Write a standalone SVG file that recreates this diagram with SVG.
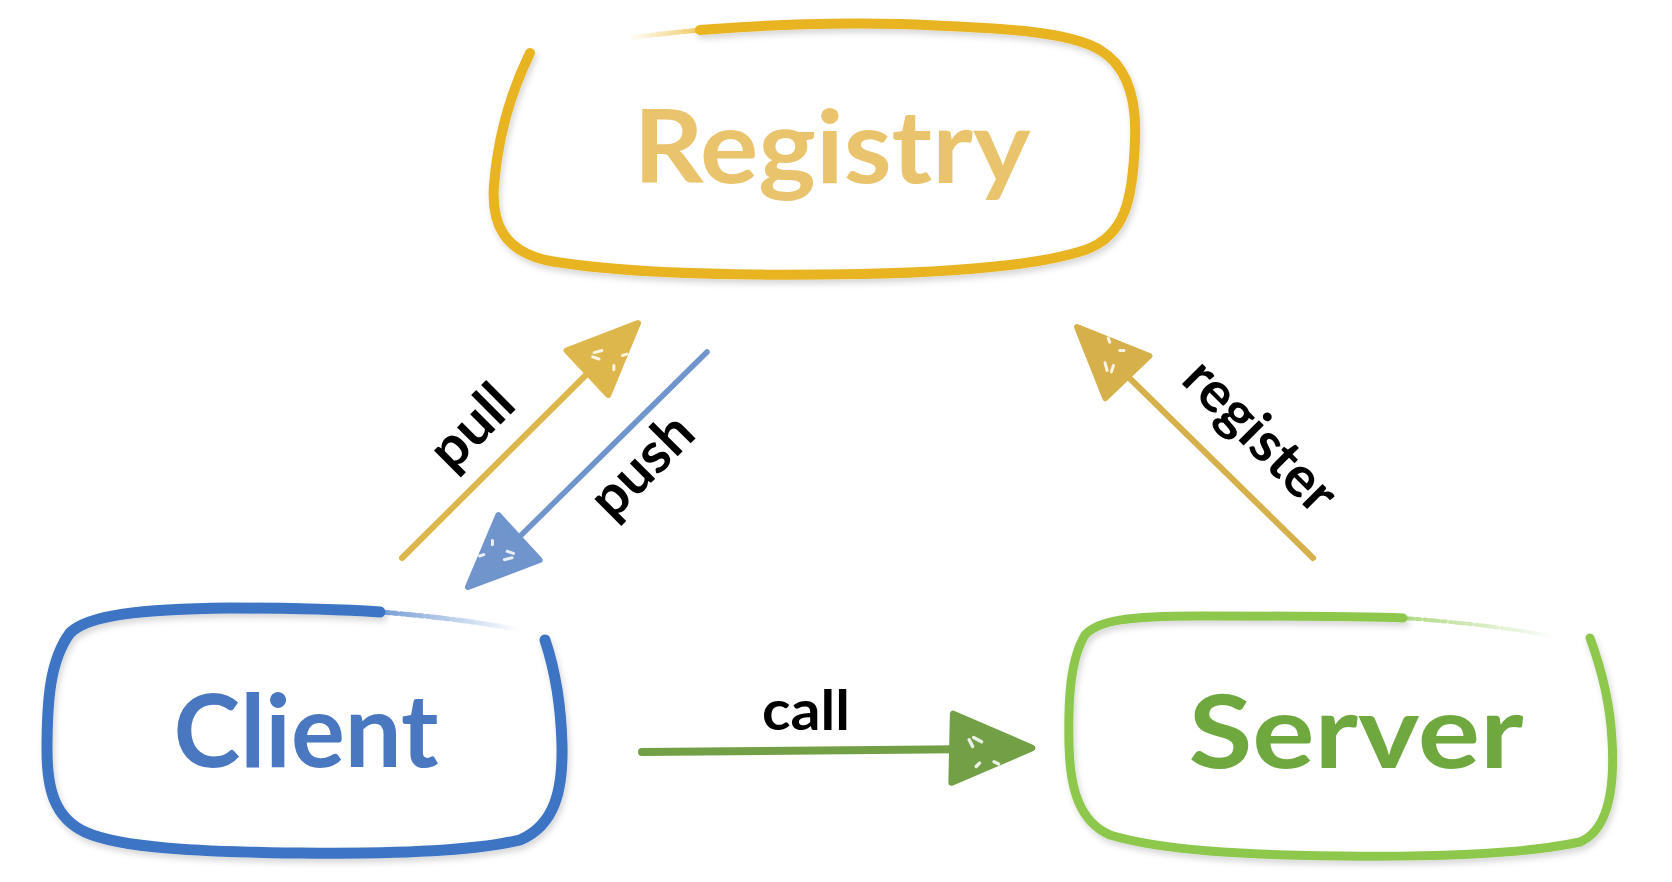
<svg xmlns="http://www.w3.org/2000/svg" xmlns:xlink="http://www.w3.org/1999/xlink" width="1672" height="882" viewBox="0 0 1672 882">
<style>
.box{fill:none;stroke-linecap:round;stroke-linejoin:round;filter:url(#sh)}
.fade{fill:none;stroke-linecap:round;stroke-dasharray:10 3 4 4 2 3;opacity:0.7}
.title{font-family:Lato,"Liberation Sans",sans-serif;font-weight:bold;font-size:102px;text-anchor:middle}
.lbl{font-family:Lato,"Liberation Sans",sans-serif;font-weight:bold;font-size:56px;fill:#000;text-anchor:middle}
.ln{fill:none;stroke-linecap:round}
</style>
<defs>
<filter id="sh" x="-10%" y="-10%" width="120%" height="130%">
<feDropShadow dx="2" dy="4" stdDeviation="3" flood-color="#000" flood-opacity="0.16"/>
</filter>
<linearGradient id="gR" gradientUnits="userSpaceOnUse" x1="700" y1="30" x2="628" y2="38">
<stop offset="0" stop-color="#E8B422"/><stop offset="1" stop-color="#E8B422" stop-opacity="0"/>
</linearGradient>
<linearGradient id="gC" gradientUnits="userSpaceOnUse" x1="380" y1="612" x2="520" y2="630">
<stop offset="0" stop-color="#3C74C4"/><stop offset="1" stop-color="#3C74C4" stop-opacity="0"/>
</linearGradient>
<linearGradient id="gS" gradientUnits="userSpaceOnUse" x1="1403" y1="618" x2="1556" y2="637">
<stop offset="0" stop-color="#8DC84E"/><stop offset="1" stop-color="#8DC84E" stop-opacity="0"/>
</linearGradient>
<g id="ah">
<path d="M0,0 L-70,-31 L-72,30 Z" fill="currentColor" stroke="currentColor" stroke-width="6" stroke-linejoin="round"/>
<path d="M-52,-10 l7,4 M-56,-8 l3,6 M-34,12 l4,2 M-50,16 l3,-3" stroke="#fff" stroke-width="3" stroke-linecap="round" opacity="0.85"/>
</g>
</defs>
<rect width="1672" height="882" fill="#fff"/>

<g id="registry">
<path class="box" stroke="#E8B422" stroke-width="10" d="M530,53 C512,90 498,135 494,185 C491,225 505,250 545,260 C620,274 740,276 860,274 C960,272 1040,265 1085,250 C1125,236 1133,200 1135,140 C1137,95 1125,65 1100,50 C1070,32 1010,28 900,24 C820,22 750,26 700,30"/>
<path class="fade" stroke="url(#gR)" stroke-width="5" d="M700,30 C670,33 650,35 628,38"/>
<text class="title" x="832" y="183" fill="#E9C46C" textLength="397" lengthAdjust="spacingAndGlyphs">Registry</text>
</g>

<g id="client">
<path class="box" stroke="#3C74C4" stroke-width="11" d="M545,640 C555,670 561,705 562,745 C563,790 555,825 520,840 C470,852 380,854 300,853 C200,852 120,848 85,832 C55,818 47,790 47,750 C47,700 50,660 70,633 C88,615 140,609 230,608 C300,608 350,610 380,612"/>
<path class="fade" stroke="url(#gC)" stroke-width="5" d="M380,612 C430,616 480,622 520,630"/>
<text class="title" x="306" y="767" fill="#4A78C0" textLength="265" lengthAdjust="spacingAndGlyphs">Client</text>
</g>

<g id="server">
<path class="box" stroke="#8DC84E" stroke-width="9" d="M1590,638 C1600,665 1610,700 1612,740 C1615,790 1608,830 1580,842 C1520,855 1420,857 1340,856 C1240,855 1160,850 1110,835 C1080,822 1070,790 1069,745 C1068,700 1070,660 1085,635 C1098,620 1130,616 1200,616 C1290,616 1360,616 1403,618"/>
<path class="fade" stroke="url(#gS)" stroke-width="4" d="M1403,618 C1460,622 1510,628 1556,637"/>
<text class="title" x="1356" y="768" fill="#6FA83F" textLength="335" lengthAdjust="spacingAndGlyphs">Server</text>
</g>

<g id="connectors">
<g id="pull">
<path class="ln" stroke="#DDB64C" stroke-width="6" d="M402,558 L603,358"/>
<use xlink:href="#ah" href="#ah" color="#DDB64C" transform="translate(638,323) rotate(-44.9)"/>
<text class="lbl" transform="translate(485,440) rotate(-45)" textLength="94" lengthAdjust="spacingAndGlyphs">pull</text>
</g>
<g id="push">
<path class="ln" stroke="#6F95CC" stroke-width="5.5" d="M707,352 L504,552"/>
<use xlink:href="#ah" href="#ah" color="#6F95CC" transform="translate(468,587) rotate(135.5)"/>
<text class="lbl" transform="translate(655,479) rotate(-45)" textLength="121" lengthAdjust="spacingAndGlyphs">push</text>
</g>
<g id="register">
<path class="ln" stroke="#D6B04A" stroke-width="6" d="M1313,558 L1113,362"/>
<use xlink:href="#ah" href="#ah" color="#D6B04A" transform="translate(1077,327) rotate(-135.6)"/>
<text class="lbl" transform="translate(1247,449) rotate(45)" textLength="191" lengthAdjust="spacingAndGlyphs">register</text>
</g>
<g id="call">
<path class="ln" stroke="#73A047" stroke-width="8" d="M642,752 L985,749"/>
<use xlink:href="#ah" href="#ah" color="#73A047" transform="translate(1032,748) rotate(-0.6) scale(1.12)"/>
<text class="lbl" x="806" y="730" textLength="88" lengthAdjust="spacingAndGlyphs">call</text>
</g>
</g>
</svg>
